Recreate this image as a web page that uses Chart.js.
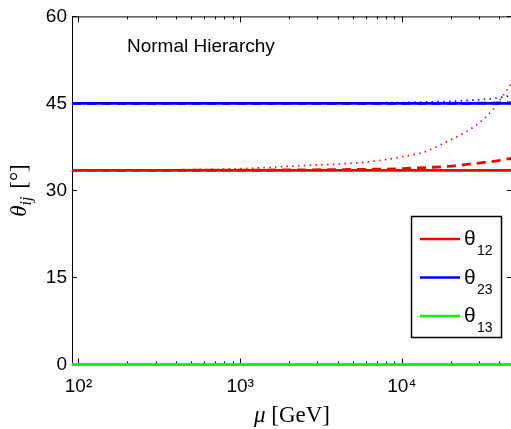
<!DOCTYPE html>
<html>
<head>
<meta charset="utf-8">
<script src="https://cdn.jsdelivr.net/npm/chart.js@4.4.1/dist/chart.umd.min.js"></script>
<style>
  html, body { margin: 0; padding: 0; background: #fff; overflow: hidden; }
</style>
</head>
<body>
<canvas id="grafico" width="515" height="429"></canvas>
<script>
// escala de energia mu [GeV]
const mu = [91.19, 200, 500, 1000, 2500, 4300, 6500, 9800, 14000, 19300, 24600, 30500, 36800, 41400, 48000];

// theta12
const t12 = [33.45, 33.45, 33.45, 33.45, 33.45, 33.45, 33.45, 33.45, 33.45, 33.45, 33.45, 33.45, 33.45, 33.45, 33.45];
const t12Tracejado = [33.45, 33.46, 33.48, 33.5, 33.55, 33.6, 33.65, 33.75, 33.95, 34.15, 34.45, 34.75, 35.0, 35.25, 35.55];
const t12Pontilhado = [33.45, 33.5, 33.6, 33.75, 34.3, 34.6, 35.0, 35.75, 36.7, 38.5, 40.0, 41.8, 44.0, 46.0, 48.6];

// theta23
const t23 = [45, 45, 45, 45, 45, 45, 45, 45, 45, 45, 45, 45, 45, 45, 45];
const t23Tracejado = [45, 45, 45, 45, 45, 45, 45, 45, 45, 45, 45.02, 45.04, 45.06, 45.08, 45.1];
const t23Pontilhado = [45, 45, 45, 45, 45.02, 45.05, 45.1, 45.15, 45.25, 45.35, 45.5, 45.65, 45.85, 46.05, 46.4];

// theta13
const t13 = [0, 0, 0, 0, 0, 0, 0, 0, 0, 0, 0, 0, 0, 0, 0];

const xTicks = [100, 1000, 10000];
const yTicks = [0, 15, 30, 45, 60];
const legendas = [["12", "#ff0000"], ["23", "#0000ff"], ["13", "#00ff00"]];

const sup = { "2": "\u00b2", "3": "\u00b3", "4": "\u2074" };

function serie(dados, cor, tipo) {
  let largura = 2.8, dash = [];
  if (tipo === "tracejado") { largura = 2.8; dash = [9, 6]; }
  if (tipo === "pontilhado") { largura = 1.7; dash = [1.5, 4.3]; }
  return {
    data: mu.map((x, i) => ({ x: x, y: dados[i] })),
    borderColor: cor,
    borderWidth: largura,
    borderDash: dash,
    pointRadius: 0,
    fill: false,
    clip: 4,
    tension: 0.35,
    cubicInterpolationMode: "monotone"
  };
}

// caixa e marcas antes das curvas
const caixa = {
  id: "caixa",
  beforeDatasetsDraw(chart) {
    const ctx = chart.ctx;
    const a = chart.chartArea;
    const sx = chart.scales.x, sy = chart.scales.y;
    ctx.save();
    ctx.strokeStyle = "#000";
    ctx.lineWidth = 1;
    ctx.strokeRect(a.left + 0.5, a.top + 0.5, a.right - a.left, a.bottom - a.top);

    ctx.beginPath();
    for (let dec = 10; dec <= 10000; dec *= 10) {
      for (let k = 1; k <= 9; k++) {
        const v = dec * k;
        if (v < sx.min || v > sx.max) continue;
        const px = Math.round(sx.getPixelForValue(v)) + 0.5;
        const len = k === 1 ? 6 : 3;
        ctx.moveTo(px, a.bottom); ctx.lineTo(px, a.bottom - len);
        ctx.moveTo(px, a.top); ctx.lineTo(px, a.top + len);
      }
    }
    yTicks.forEach(v => {
      const py = Math.round(sy.getPixelForValue(v)) + 0.5;
      ctx.moveTo(a.left, py); ctx.lineTo(a.left + 5, py);
      ctx.moveTo(a.right, py); ctx.lineTo(a.right - 5, py);
    });
    ctx.stroke();
    ctx.restore();
  }
};

const extras = {
  id: "extras",
  afterDraw(chart) {
    const ctx = chart.ctx;
    const a = chart.chartArea;
    ctx.save();

    // texto anotacao
    ctx.fillStyle = "#000";
    ctx.font = "19px 'Liberation Sans', Arial, sans-serif";
    ctx.textAlign = "left";
    ctx.textBaseline = "alphabetic";
    ctx.fillText("Normal Hierarchy", 127, 52);

    // legenda
    const lx = 411.5, ly = 216.5, lw = 90, lh = 121;
    ctx.fillStyle = "#fff";
    ctx.fillRect(lx, ly, lw, lh);
    ctx.lineWidth = 1.5;
    ctx.strokeStyle = "#000";
    ctx.strokeRect(lx, ly, lw, lh);
    legendas.forEach((item, i) => {
      const y = 239 + i * 38.5;
      ctx.strokeStyle = item[1];
      ctx.lineWidth = 2.5;
      ctx.beginPath();
      ctx.moveTo(420, y); ctx.lineTo(460, y);
      ctx.stroke();
      ctx.fillStyle = "#000";
      ctx.font = "21px 'Liberation Sans', Arial, sans-serif";
      ctx.fillText("\u03b8", 464, y + 6);
      ctx.font = "14px 'Liberation Sans', Arial, sans-serif";
      ctx.fillText(item[0], 477, y + 16);
    });

    // titulo eixo x
    ctx.fillStyle = "#000";
    const fIt = "italic 23px 'Liberation Serif', 'DejaVu Serif', serif";
    const fRm = "23px 'Liberation Serif', 'DejaVu Serif', serif";
    ctx.font = fIt;
    const w1 = ctx.measureText("\u03bc").width;
    ctx.font = fRm;
    const w2 = ctx.measureText(" [GeV]").width;
    let x0 = (a.left + a.right) / 2 - (w1 + w2) / 2;
    ctx.font = fIt; ctx.fillText("\u03bc", x0, 422);
    ctx.font = fRm; ctx.fillText(" [GeV]", x0 + w1, 422);

    // titulo eixo y
    ctx.translate(29, (a.top + a.bottom) / 2);
    ctx.rotate(-Math.PI / 2);
    const fSub = "italic 16px 'Liberation Serif', 'DejaVu Serif', serif";
    ctx.font = fIt;
    const t1 = ctx.measureText("\u03b8").width;
    ctx.font = fSub;
    const t2 = ctx.measureText("ij").width;
    ctx.font = fRm;
    const t3 = ctx.measureText(" [\u00b0]").width;
    let s = -(t1 + t2 + 2 + t3) / 2;
    ctx.font = fIt; ctx.fillText("\u03b8", s, -3);
    ctx.font = fSub; ctx.fillText("ij", s + t1, 2);
    ctx.font = fRm; ctx.fillText(" [\u00b0]", s + t1 + t2 + 2, -3);
    ctx.restore();
  }
};

const ctx = document.getElementById("grafico").getContext("2d");

new Chart(ctx, {
  type: "line",
  data: {
    datasets: [
      serie(t13, "#00ff00", "solido"),
      serie(t23, "#0000ff", "solido"),
      serie(t12, "#ff0000", "solido"),
      serie(t23Tracejado, "#0000ff", "tracejado"),
      serie(t12Tracejado, "#ff0000", "tracejado"),
      serie(t23Pontilhado, "#0000ff", "pontilhado"),
      serie(t12Pontilhado, "#ff0000", "pontilhado")
    ]
  },
  options: {
    responsive: false,
    animation: false,
    devicePixelRatio: 1,
    layout: { padding: { top: 16, right: 3, left: 0, bottom: 0 } },
    plugins: {
      legend: { display: false },
      tooltip: { enabled: false }
    },
    scales: {
      x: {
        type: "logarithmic",
        min: 91.19,
        max: 48000,
        grid: { display: false, drawTicks: false },
        border: { display: false },
        afterBuildTicks: scale => { scale.ticks = xTicks.map(v => ({ value: v })); },
        afterFit: scale => { scale.height = 64.5; },
        ticks: {
          autoSkip: false,
          maxRotation: 0,
          padding: 11,
          color: "#000",
          font: { family: "'Liberation Sans', Arial, sans-serif", size: 19 },
          callback: v => "10" + sup[String(Math.round(Math.log10(v)))]
        }
      },
      y: {
        min: 0,
        max: 60,
        grid: { display: false, drawTicks: false },
        border: { display: false },
        afterBuildTicks: scale => { scale.ticks = yTicks.map(v => ({ value: v })); },
        afterFit: scale => { scale.width = 72; },
        ticks: {
          padding: 5,
          color: "#000",
          font: { family: "'Liberation Sans', Arial, sans-serif", size: 19 }
        }
      }
    }
  },
  plugins: [caixa, extras]
});
</script>
</body>
</html>
